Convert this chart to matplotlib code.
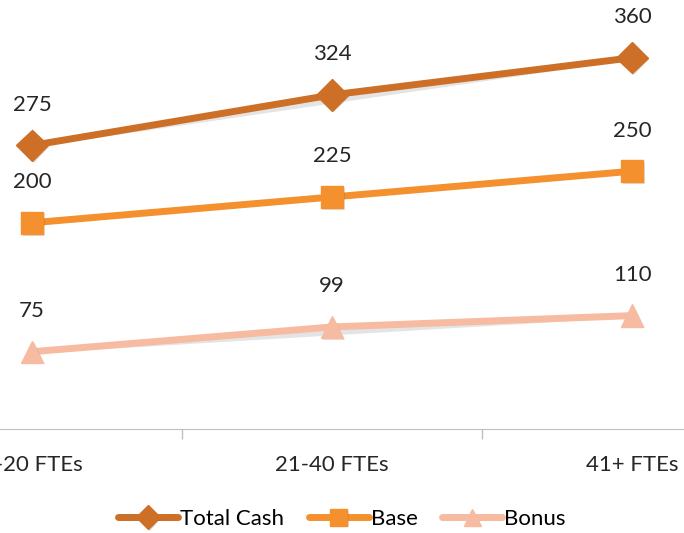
import matplotlib.pyplot as plt
import matplotlib.patheffects as pe

# chart data
categories = ['1-20 FTEs', '21-40 FTEs', '41+ FTEs']
total_cash = [275, 324, 360]
base = [200, 225, 250]
bonus = [75, 99, 110]

series = [
    ('Total Cash', total_cash, '#CD6F26', 'D', 16),
    ('Base', base, '#F5902F', 's', 16),
    ('Bonus', bonus, '#F6BBA0', '^', 16),
]

plt.rcParams['font.family'] = ['Lato', 'DejaVu Sans']

fig = plt.figure(figsize=(6.84, 5.33), dpi=100)
ax = fig.add_axes([0, 0.195, 1, 0.805])

x = list(range(len(categories)))
shadow = [pe.SimplePatchShadow(offset=(1.2, -1.2), alpha=0.15), pe.Normal()]
for name, vals, color, mk, ms in series:
    ax.plot(x, vals, color=color, lw=5, marker=mk, markersize=ms,
            markeredgecolor=color, label=name, solid_capstyle='round',
            path_effects=shadow)
    for xi, v in zip(x, vals):
        ax.annotate(str(v), (xi, v), xytext=(0, 22), textcoords='offset points',
                    ha='center', va='bottom', fontsize=16, color='#262626')

ax.set_xlim(-0.107, 2.173)
ax.set_ylim(0, 416)
ax.set_xticks(x)
ax.set_xticklabels(categories, fontsize=16, color='#262626')
ax.set_xticks([0.5, 1.5], minor=True)
ax.tick_params(axis='x', which='major', length=0, pad=19)
ax.tick_params(axis='x', which='minor', length=7, color='#BFBFBF', width=1)
ax.set_yticks([])
for s in ['top', 'left', 'right']:
    ax.spines[s].set_visible(False)
ax.spines['bottom'].set_color('#BFBFBF')

fig.legend(loc='lower center', bbox_to_anchor=(0.5, -0.03), ncol=3, frameon=False,
           fontsize=16, handlelength=2.7, columnspacing=1.1, handletextpad=0.1,
           markerscale=0.75)

fig.savefig('out.png', dpi=100)
